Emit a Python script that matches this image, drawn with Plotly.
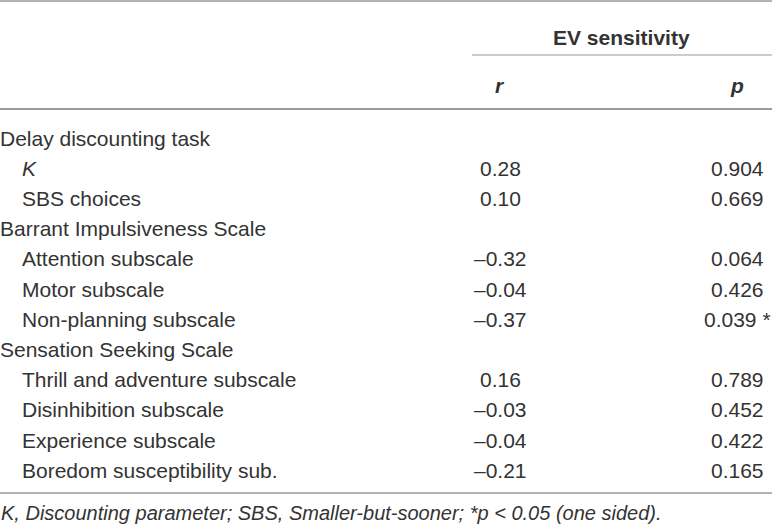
import plotly.graph_objects as go

# table content
row_labels = [
    "Delay discounting task", "<i>K</i>", "SBS choices",
    "Barrant Impulsiveness Scale", "Attention subscale", "Motor subscale",
    "Non-planning subscale", "Sensation Seeking Scale",
    "Thrill and adventure subscale", "Disinhibition subscale",
    "Experience subscale", "Boredom susceptibility sub.",
]
row_indent = [0, 1, 1, 0, 1, 1, 1, 0, 1, 1, 1, 1]
r_values = ["", "0.28", "0.10", "", "\u20130.32", "\u20130.04", "\u20130.37",
            "", "0.16", "\u20130.03", "\u20130.04", "\u20130.21"]
p_values = ["", "0.904", "0.669", "", "0.064", "0.426", "0.039",
            "", "0.789", "0.452", "0.422", "0.165"]
p_marks = ["", "", "", "", "", "", "*", "", "", "", "", ""]
header_group = "EV sensitivity"
col_headers = ["r", "p"]
footnote = ("<i>K, Discounting parameter; SBS, Smaller-but-sooner; "
            "*p < 0.05 (one sided).</i>")

W, H = 772, 528
FONT = "Liberation Sans, Arial, sans-serif"
TXT = "#333333"
RULE = "#9a9a9a"
row_y0, row_h = 138, 30.2
r_x, p_x = 500, 737

fig = go.Figure()
fig.add_trace(go.Scatter(x=[0, W], y=[0, H], mode="markers",
                         marker=dict(opacity=0), hoverinfo="skip"))

ann = []
def txt(x, y, s, anchor="left", size=21, shift=0):
    ann.append(dict(x=x, y=y, text=s, showarrow=False, xanchor=anchor,
                    yanchor="middle", xref="x", yref="y", xshift=shift,
                    font=dict(family=FONT, size=size, color=TXT)))

txt(621, 37, "<b>" + header_group + "</b>", anchor="center")
txt(r_x, 85, "<b><i>" + col_headers[0] + "</i></b>", anchor="center")
txt(p_x, 85, "<b><i>" + col_headers[1] + "</i></b>", anchor="center")

for i, lab in enumerate(row_labels):
    y = row_y0 + i * row_h
    txt(22 * row_indent[i], y, lab, shift=-2)
    if r_values[i]:
        txt(r_x, y, r_values[i], anchor="center")
    if p_values[i]:
        s = p_values[i]
        if p_marks[i]:
            s += " " + p_marks[i]
        txt(p_x, y, s, anchor="center")

txt(0, 513, footnote, size=20, shift=-1)

shapes = []
def rule(x0, x1, y, w=1.5):
    shapes.append(dict(type="line", xref="x", yref="y", x0=x0, x1=x1,
                       y0=y, y1=y, line=dict(color=RULE, width=w)))

rule(0, W, 1, 1.5)
rule(472, W, 55, 1.2)
rule(0, W, 109, 2)
rule(0, W, 493, 1.5)

fig.update_layout(
    width=W, height=H, margin=dict(l=0, r=0, t=0, b=0),
    paper_bgcolor="white", plot_bgcolor="white", showlegend=False,
    annotations=ann, shapes=shapes,
    xaxis=dict(range=[0, W], visible=False, fixedrange=True),
    yaxis=dict(range=[H, 0], visible=False, fixedrange=True),
)
fig.write_html("out.html", config={"displayModeBar": False},
               post_script="document.body.style.margin='0';")
